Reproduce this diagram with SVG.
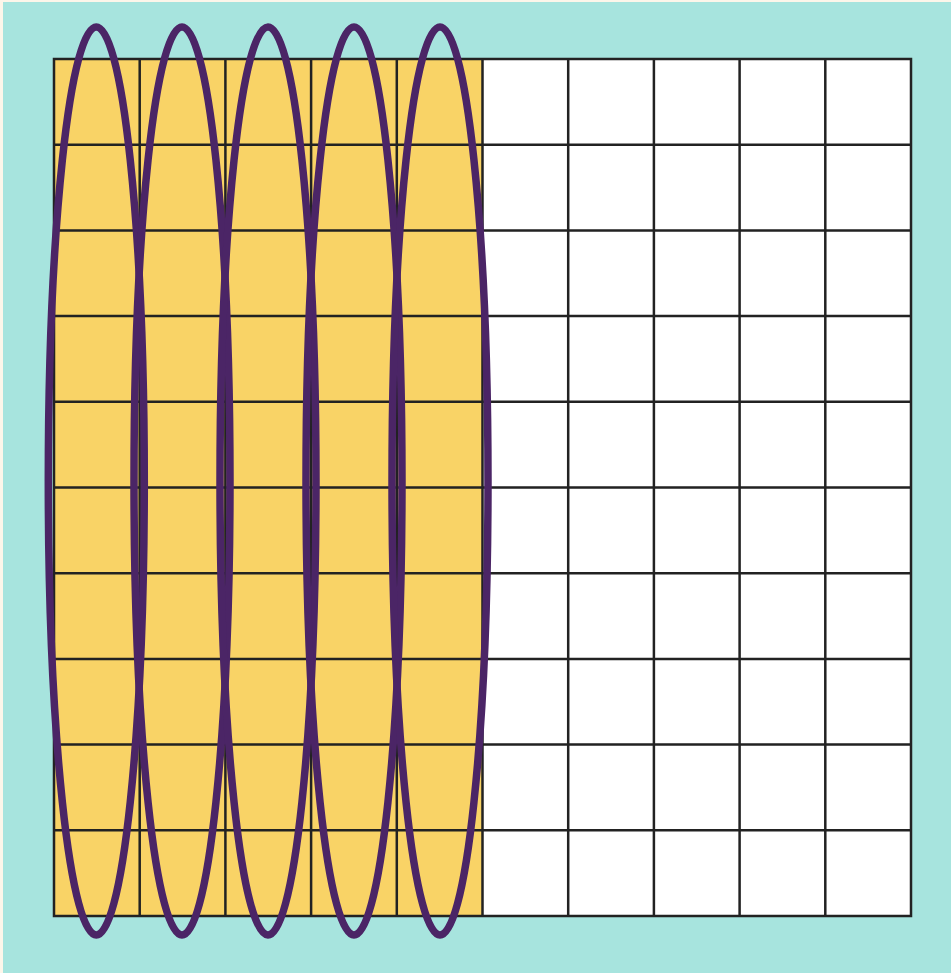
<svg xmlns="http://www.w3.org/2000/svg" width="951" height="973" viewBox="0 0 951 973">
<style>
.g{stroke:#222;stroke-width:2.5;fill:none}
.e{fill:none;stroke:#4B2566;stroke-width:7.5}
</style>
<rect x="0" y="0" width="951" height="973" fill="#FDF6EA"/>
<rect x="3" y="2" width="948" height="971" fill="#A7E4DE"/>
<g id="grid">
<rect x="54" y="59" width="857" height="857" fill="#FFFFFF"/>
<rect x="54" y="59" width="428.5" height="857" fill="#F9D366"/>
<path class="g" d="M54 59H911V916H54Z M139.7 59V916 M225.4 59V916 M311.1 59V916 M396.8 59V916 M482.5 59V916 M568.2 59V916 M653.9 59V916 M739.6 59V916 M825.3 59V916 M54 144.7H911 M54 230.4H911 M54 316.1H911 M54 401.8H911 M54 487.5H911 M54 573.2H911 M54 658.9H911 M54 744.6H911 M54 830.3H911"/>
</g>
<g id="ellipses">
<ellipse id="e1" class="e" cx="96.3" cy="481" rx="48" ry="454"/>
<ellipse id="e2" class="e" cx="182" cy="481" rx="48" ry="454"/>
<ellipse id="e3" class="e" cx="268" cy="481" rx="48" ry="454"/>
<ellipse id="e4" class="e" cx="354" cy="481" rx="48" ry="454"/>
<ellipse id="e5" class="e" cx="440" cy="481" rx="48" ry="454"/>
</g>
</svg>
